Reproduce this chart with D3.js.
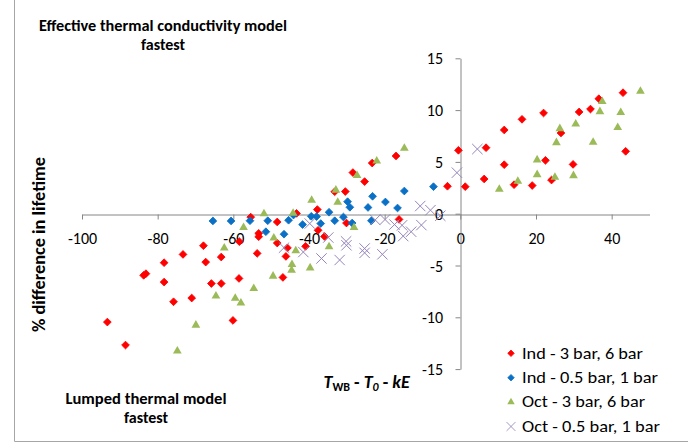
<!DOCTYPE html>
<html>
<head>
<meta charset="utf-8">
<script src="https://cdn.jsdelivr.net/npm/d3@7"></script>
<style>
  html, body { margin: 0; padding: 0; background: #fff; }
  svg { display: block; }
  text { font-family: Carlito, Calibri, Lato, "Open Sans", sans-serif; fill: #000; }
</style>
</head>
<body>
<svg id="chart" width="688" height="443"></svg>
<script>
// Axis ticks
const xTicks = [-100, -80, -60, -40, -20, 0, 20, 40];
const yTicks = [-15, -10, -5, 0, 5, 10, 15];

// Series: [T_WB - T_0 - kE, % difference in lifetime]
const indHigh = [
  [-93.3, -10.46], [-88.5, -12.68], [-83.7, -5.95], [-83.1, -5.79], [-78.3, -4.73],
  [-78.3, -6.6], [-75.8, -8.5], [-73.3, -3.93], [-71.0, -8.14], [-67.9, -3.09],
  [-67.3, -4.67], [-65.8, -6.74], [-63.2, -4.18], [-63.2, -6.74], [-60.1, -10.3],
  [-58.5, -6.25], [-58.4, -2.7], [-55.4, -0.33], [-53.7, -3.83], [-53.3, -1.9],
  [-53.3, -2.22], [-48.4, -0.8], [-48.4, -2.83], [-46.9, -6.15], [-46.1, -4.12],
  [-45.7, -3.3], [-43.3, 0.03], [-40.9, -3.15], [-37.8, 0.4], [-37.6, -1.6],
  [-35.9, -2.2], [-33.2, 2.12], [-30.4, 2.14], [-30.1, -0.9], [-28.4, 3.97],
  [-25.3, 3.1], [-23.3, 4.89], [-17.0, 5.57], [-16.2, -0.55], [-3.4, 2.65],
  [-0.5, 6.12], [1.3, 2.61], [6.3, 3.35], [6.8, 6.37], [11.6, 8.08],
  [11.6, 4.73], [14.2, 2.8], [16.3, 9.11], [19.0, 2.72], [22.0, 9.72],
  [22.5, 5.15], [24.1, 3.25], [26.6, 7.79], [29.8, 4.76], [31.4, 9.82],
  [34.4, 10.1], [36.6, 11.1], [43.0, 11.68], [43.7, 6.02]
];
const indLow = [
  [-65.4, -0.7], [-60.6, -0.7], [-55.6, -0.68], [-51.4, -1.74], [-50.9, -0.68],
  [-46.6, -1.98], [-45.4, -0.63], [-44.1, -0.13], [-41.7, -1.05], [-39.4, -0.25],
  [-38.0, -0.28], [-36.9, -0.95], [-34.7, 0.14], [-33.2, -0.68], [-30.9, -0.32],
  [-29.8, 1.16], [-29.2, 0.62], [-28.6, -0.9], [-24.4, 0.6], [-23.5, -0.68],
  [-23.2, 1.68], [-19.8, 1.13], [-16.6, 0.55], [-14.8, 2.19], [-7.1, 2.61]
];
const octHigh = [
  [-74.8, -13.2], [-69.9, -10.7], [-64.6, -7.88], [-62.4, -3.25], [-59.5, -8.1],
  [-58.0, -8.57], [-57.3, -1.27], [-54.6, -7.17], [-51.9, 0.05], [-49.5, -5.97],
  [-49.3, -2.29], [-44.2, 0.1], [-44.6, -5.4], [-44.5, -4.85], [-43.5, -3.52],
  [-39.7, -5.17], [-39.3, 1.35], [-34.7, -3.13], [-32.9, 2.33], [-32.4, 1.16],
  [-28.1, -1.27], [-27.3, 3.74], [-22.1, 5.15], [-14.8, 6.37], [10.3, 2.41],
  [15.2, 3.19], [20.3, 3.83], [20.3, 5.25], [25.0, 3.57], [25.4, 6.92],
  [26.3, 8.27], [29.9, 3.73], [30.5, 8.72], [35.1, 6.95], [36.9, 9.91],
  [37.5, 10.88], [41.6, 8.37], [42.4, 9.82], [47.6, 11.88]
];
const octLow = [
  [-46.6, -3.28], [-39.8, -0.95], [-41.5, -3.7], [-36.7, -4.32], [-34.9, -2.3],
  [-31.9, -4.47], [-30.2, -2.67], [-30.1, -3.05], [-25.3, -3.36], [-25.3, -3.78],
  [-22.5, -0.6], [-20.6, -3.92], [-19.9, -0.56], [-17.4, -1.05], [-15.4, -1.12],
  [-15.1, -2.16], [-13.0, -1.74], [-10.6, 0.74], [-10.3, -1.1], [-7.9, 0.34],
  [-5.3, -0.2], [-0.9, 3.96], [4.5, 6.24]
];

const seriesNames = ["Ind - 3 bar, 6 bar", "Ind - 0.5 bar, 1 bar", "Oct - 3 bar, 6 bar", "Oct - 0.5 bar, 1 bar"];
const seriesData = [indHigh, indLow, octHigh, octLow];
const seriesColors = ["#ff0000", "#0a70c6", "#9bbb59", "#9584bb"];
const seriesShapes = ["diamond", "diamond", "triangle", "cross"];
const legendWidths = [121, 136, 123, 138];

const svg = d3.select("#chart");

// Chart frame (left and bottom edges visible)
svg.append("path")
  .attr("d", "M14.5,0V441.5H688")
  .attr("fill", "none").attr("stroke", "#a6a6a6").attr("stroke-width", 1);

const x = d3.scaleLinear().domain([-100, 50]).range([82, 649.5]);
const y = d3.scaleLinear().domain([-15, 15]).range([369.1, 58.3]);

const axisColor = "#868686";
const plainNum = d => String(d);

// X axis crosses at y = 0
const gx = svg.append("g")
  .attr("transform", `translate(0,${Math.round(y(0)) + 0.5})`)
  .call(d3.axisBottom(x).tickValues(xTicks).tickSize(5).tickSizeOuter(0).tickFormat(plainNum));
gx.select(".domain").attr("stroke", axisColor);
gx.selectAll(".tick line").attr("stroke", axisColor);
gx.selectAll(".tick text").attr("font-size", 16).attr("y", 0).attr("dy", "29.3")
  .style("font-family", "Carlito, Calibri, Lato, sans-serif").attr("fill", "#000");

// Y axis crosses at x = 0
const gy = svg.append("g")
  .attr("transform", `translate(${Math.round(x(0)) + 0.5},0)`)
  .call(d3.axisLeft(y).tickValues(yTicks).tickSize(5).tickSizeOuter(0).tickFormat(plainNum));
gy.select(".domain").attr("stroke", axisColor);
gy.selectAll(".tick line").attr("stroke", axisColor);
gy.selectAll(".tick text").attr("font-size", 16).attr("x", -17.5).attr("dy", "5.6")
  .style("font-family", "Carlito, Calibri, Lato, sans-serif").attr("fill", "#000");

// Marker generators
const diamond = d3.symbol(d3.symbolSquare, 30);
const triangle = d3.symbol(d3.symbolTriangle, 33);
const cross = d3.symbol(d3.symbolX, 72);

function drawMarker(sel, shape, color) {
  if (shape === "diamond") {
    sel.attr("d", diamond()).attr("fill", color).attr("stroke", color).attr("stroke-width", 0.8)
      .attr("stroke-linejoin", "round");
  } else if (shape === "triangle") {
    sel.attr("d", triangle()).attr("fill", color).attr("stroke", "none");
  } else {
    sel.attr("d", cross()).attr("fill", "none").attr("stroke", color).attr("stroke-width", 1);
  }
}

seriesData.forEach((data, i) => {
  const shape = seriesShapes[i];
  const g = svg.append("g");
  g.selectAll("path").data(data).join("path")
    .attr("transform", d => `translate(${x(d[0])},${y(d[1])})` + (shape === "diamond" ? " rotate(45)" : "") + (shape === "triangle" ? " translate(0,0.6)" : ""))
    .call(drawMarker, shape, seriesColors[i]);
});

// Legend
const legend = svg.append("g");
seriesNames.forEach((name, i) => {
  const ly = 353.3 + i * 24.4;
  const shape = seriesShapes[i];
  legend.append("path")
    .attr("transform", `translate(511,${ly})` + (shape === "diamond" ? " rotate(45) scale(0.85)" : " scale(0.85)"))
    .call(drawMarker, shape, seriesColors[i]);
  legend.append("text").attr("x", 522).attr("y", ly + 5.2)
    .attr("font-size", 17).attr("textLength", legendWidths[i]).attr("lengthAdjust", "spacingAndGlyphs")
    .text(name);
});

// Quadrant notes
const noteTop = svg.append("text").attr("font-weight", "bold").attr("font-size", 16).attr("text-anchor", "middle");
noteTop.append("tspan").attr("x", 163).attr("y", 31).attr("textLength", 248).attr("lengthAdjust", "spacingAndGlyphs")
  .text("Effective thermal conductivity model");
noteTop.append("tspan").attr("x", 163).attr("y", 50).text("fastest");

const noteBottom = svg.append("text").attr("font-weight", "bold").attr("font-size", 16).attr("text-anchor", "middle");
noteBottom.append("tspan").attr("x", 146).attr("y", 403.5).attr("textLength", 161).attr("lengthAdjust", "spacingAndGlyphs")
  .text("Lumped thermal model");
noteBottom.append("tspan").attr("x", 146).attr("y", 423).text("fastest");

// Axis titles
svg.append("text")
  .attr("transform", "translate(45,244.5) rotate(-90)")
  .attr("text-anchor", "middle").attr("font-weight", "bold").attr("font-size", 17.5)
  .attr("textLength", 175).attr("lengthAdjust", "spacingAndGlyphs")
  .text("% difference in lifetime");

const xt = svg.append("text").attr("x", 323.5).attr("y", 387.5)
  .attr("font-weight", "bold").attr("font-style", "italic").attr("font-size", 18);
xt.append("tspan").text("T");
xt.append("tspan").attr("font-size", 12).attr("font-style", "normal").attr("dy", 3).text("WB");
xt.append("tspan").attr("dy", -3).attr("font-style", "normal").text(" - ");
xt.append("tspan").text("T");
xt.append("tspan").attr("font-size", 12).attr("dy", 3).text("0");
xt.append("tspan").attr("dy", -3).attr("font-style", "normal").text(" - ");
xt.append("tspan").text("kE");
</script>
</body>
</html>
